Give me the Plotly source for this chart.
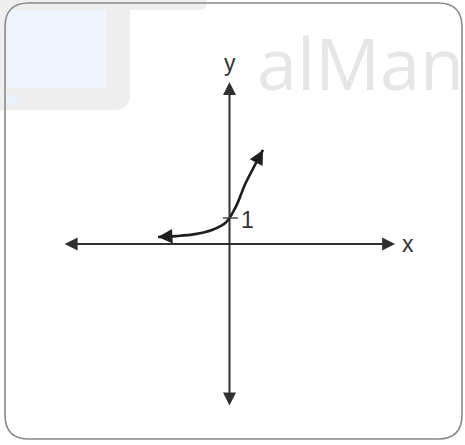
import plotly.graph_objects as go

W, H = 465, 445

# Sketch of an exponential curve y = b^x crossing the y-axis at 1
CURVE_X = [-2.75, -1.98, -1.33, -0.67, -0.33, -0.14, 0.0, 0.16, 0.33, 0.60, 0.98, 1.29]
CURVE_Y = [0.27, 0.31, 0.38, 0.54, 0.70, 0.83, 1.00, 1.27, 1.62, 2.30, 3.04, 3.62]
Y_INTERCEPT = 1
AXIS_LABELS = ["x", "y"]
WATERMARK = "alMan"

# Axis extents (data units) and the visible window
AXIS_X = (-6.40, 6.37)
AXIS_Y = (-6.27, 6.23)
X_RANGE = (-8.827, 9.058)
Y_RANGE = (-7.731, 9.385)


def px(x):
    return x / W


def py(y):
    return 1 - y / H


def rounded_rect(x0, y0, x1, y1, r):
    pts = [
        f"M {px(x0 + r)},{py(y0)}",
        f"L {px(x1 - r)},{py(y0)}",
        f"Q {px(x1)},{py(y0)} {px(x1)},{py(y0 + r)}",
        f"L {px(x1)},{py(y1 - r)}",
        f"Q {px(x1)},{py(y1)} {px(x1 - r)},{py(y1)}",
        f"L {px(x0 + r)},{py(y1)}",
        f"Q {px(x0)},{py(y1)} {px(x0)},{py(y1 - r)}",
        f"L {px(x0)},{py(y0 + r)}",
        f"Q {px(x0)},{py(y0)} {px(x0 + r)},{py(y0)}",
        "Z",
    ]
    return " ".join(pts)


fig = go.Figure()

fig.add_trace(go.Scatter(
    x=CURVE_X, y=CURVE_Y, mode="lines",
    line=dict(color="#1e1e1e", width=2.6, shape="spline", smoothing=0.9),
    hoverinfo="skip", showlegend=False,
))

shapes = []
# faint logo block in the upper-left corner
shapes.append(dict(type="path", xref="paper", yref="paper", layer="below",
                   path=rounded_rect(-20, -20, 130, 110, 16),
                   fillcolor="#eeeeee", line=dict(width=0)))
shapes.append(dict(type="path", xref="paper", yref="paper", layer="below",
                   path=rounded_rect(-20, -20, 207, 10, 8),
                   fillcolor="#eeeeee", line=dict(width=0)))
shapes.append(dict(type="rect", xref="paper", yref="paper", layer="below",
                   x0=px(7), x1=px(107), y0=py(88), y1=py(10),
                   fillcolor="#eef4fd", line=dict(width=0)))
shapes.append(dict(type="circle", xref="paper", yref="paper", layer="below",
                   x0=px(5), x1=px(19), y0=py(106), y1=py(94),
                   fillcolor="#e8f0fb", line=dict(width=0)))
# card outline
shapes.append(dict(type="path", xref="paper", yref="paper",
                   path=rounded_rect(5, 3, 462, 439, 24),
                   line=dict(color="#8a8a8a", width=1.6)))
# tick at the y-intercept
shapes.append(dict(type="line", xref="x", yref="y",
                   x0=-0.25, x1=0.32, y0=Y_INTERCEPT, y1=Y_INTERCEPT,
                   line=dict(color="#555555", width=1.6)))

annotations = []
# watermark text
annotations.append(dict(xref="paper", yref="paper", x=px(255), y=py(62),
                        xanchor="left", yanchor="middle", showarrow=False,
                        text=WATERMARK,
                        font=dict(family="Open Sans", size=72,
                                  color="#e6e6e6")))
# axes as double-headed arrows
for head, tail in [((AXIS_X[1], 0), (AXIS_X[0], 0)),
                   ((0, AXIS_Y[1]), (0, AXIS_Y[0]))]:
    annotations.append(dict(x=head[0], y=head[1], ax=tail[0], ay=tail[1],
                            xref="x", yref="y", axref="x", ayref="y",
                            text="", showarrow=True, arrowside="end+start",
                            arrowhead=2, startarrowhead=2, arrowsize=1.3,
                            startarrowsize=1.3, arrowwidth=2.0,
                            arrowcolor="#303030",
                            standoff=0, startstandoff=0))
# arrowheads on both ends of the curve
for i, j in [(-1, -2), (0, 1)]:
    annotations.append(dict(x=CURVE_X[i], y=CURVE_Y[i], ax=CURVE_X[j], ay=CURVE_Y[j],
                            xref="x", yref="y", axref="x", ayref="y",
                            text="", showarrow=True, arrowhead=2, arrowsize=1.2,
                            arrowwidth=2.4, arrowcolor="#1e1e1e", standoff=0))
# axis labels
label_font = dict(family="Liberation Sans, Arial", size=23, color="#333333")
annotations.append(dict(x=AXIS_X[1] + 0.2, y=0.0, xref="x", yref="y",
                        xanchor="left", yanchor="middle", showarrow=False,
                        text=AXIS_LABELS[0], font=label_font))
annotations.append(dict(x=0, y=AXIS_Y[1] + 0.72, xref="x", yref="y",
                        xanchor="center", yanchor="middle", showarrow=False,
                        text=AXIS_LABELS[1], font=label_font))
annotations.append(dict(x=0.36, y=Y_INTERCEPT - 0.06, xref="x", yref="y",
                        xanchor="left", yanchor="middle", showarrow=False,
                        text=str(Y_INTERCEPT),
                        font=dict(family="Liberation Sans, Arial", size=23,
                                  color="#333333")))

fig.update_layout(
    width=W, height=H,
    margin=dict(l=0, r=0, t=0, b=0),
    paper_bgcolor="white", plot_bgcolor="white",
    xaxis=dict(range=list(X_RANGE), visible=False, fixedrange=True),
    yaxis=dict(range=list(Y_RANGE), visible=False, fixedrange=True),
    shapes=shapes, annotations=annotations,
    showlegend=False,
)

fig.write_html("out.html", config={"displayModeBar": False})
